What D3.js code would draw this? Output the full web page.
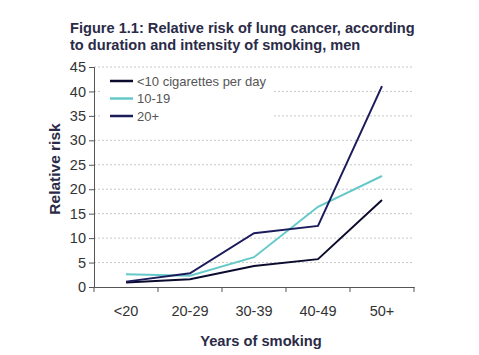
<!DOCTYPE html>
<html><head><meta charset="utf-8">
<script src="https://cdn.jsdelivr.net/npm/d3@7"></script>
<style>body{margin:0;background:#fff}svg{display:block}</style>
</head><body>
<script>
const categories = ["<20", "20-29", "30-39", "40-49", "50+"];
const seriesNames = ["<10 cigarettes per day", "10-19", "20+"];
const lt10 = [0.9, 1.6, 4.3, 5.7, 17.8];
const s10_19 = [2.6, 2.3, 6.1, 16.4, 22.7];
const s20plus = [1.1, 2.8, 11.0, 12.5, 41.1];
const yTicks = [0, 5, 10, 15, 20, 25, 30, 35, 40, 45];
const colors = ["#0b0b2e", "#66c9c9", "#1c1c5c"];
const series = [lt10, s10_19, s20plus];

const W = 479, H = 355;
const svg = d3.select("body").append("svg").attr("width", W).attr("height", H);
const x = d3.scaleBand().domain(categories).range([94, 414]);
const y = d3.scaleLinear().domain([0, 45]).range([287, 67]);
const font = "Liberation Sans, Arial, sans-serif";

// title
const title = svg.append("text").attr("x", 70).attr("y", 33)
  .attr("font-family", font).attr("font-weight", "bold").attr("font-size", 14.6).attr("fill", "#2b2b48");
title.append("tspan").attr("x", 70).attr("y", 33).text("Figure 1.1: Relative risk of lung cancer, according");
title.append("tspan").attr("x", 70).attr("y", 50).text("to duration and intensity of smoking, men");

// gridlines
svg.append("g").selectAll("line").data(yTicks.filter(d => d > 0)).join("line")
  .attr("x1", 94).attr("x2", 414).attr("y1", d => y(d)).attr("y2", d => y(d))
  .attr("stroke", "#c8c8c8").attr("stroke-width", 1).attr("stroke-dasharray", "2,2");

// y axis
const ya = svg.append("g").attr("transform", "translate(94,0)")
  .call(d3.axisLeft(y).tickValues(yTicks).tickSize(5).tickPadding(3));
ya.selectAll("text").attr("font-family", font).attr("font-size", 14.5).attr("fill", "#333");
ya.selectAll("line,path").attr("stroke", "#555");

// x axis
const xa = svg.append("g").attr("transform", "translate(0,287)")
  .call(d3.axisBottom(x).tickSize(0).tickPadding(19));
xa.selectAll("text").attr("font-family", font).attr("font-size", 14.5).attr("fill", "#333");
xa.select("path").attr("stroke", "#555");
const bounds = categories.map(c => x(c)).concat([x(categories[categories.length - 1]) + x.bandwidth()]);
xa.selectAll(".xt").data(bounds).join("line").attr("class", "xt")
  .attr("x1", d => d).attr("x2", d => d).attr("y1", 0).attr("y2", 5).attr("stroke", "#555");

// axis titles
svg.append("text").attr("transform", "translate(60,169) rotate(-90)").attr("text-anchor", "middle")
  .attr("font-family", font).attr("font-weight", "bold").attr("font-size", 15.5).attr("fill", "#2b2b48")
  .text("Relative risk");
svg.append("text").attr("x", 261).attr("y", 346).attr("text-anchor", "middle")
  .attr("font-family", font).attr("font-weight", "bold").attr("font-size", 14.7).attr("fill", "#2b2b48")
  .text("Years of smoking");

// legend background
svg.append("rect").attr("x", 100).attr("y", 72).attr("width", 172).attr("height", 52).attr("fill", "#fff");

// lines
const line = d3.line().x((d, i) => x(categories[i]) + x.bandwidth() / 2).y(d => y(d));
svg.append("g").selectAll("path").data(series).join("path")
  .attr("d", d => line(d)).attr("fill", "none")
  .attr("stroke", (d, i) => colors[i]).attr("stroke-width", 2).attr("stroke-linejoin", "miter");

// legend
const lg = svg.append("g").selectAll("g").data(seriesNames).join("g")
  .attr("transform", (d, i) => `translate(110,${81 + i * 17.5})`);
lg.append("line").attr("x1", 0).attr("x2", 23).attr("stroke", (d, i) => colors[i]).attr("stroke-width", 2.5);
lg.append("text").attr("x", 27).attr("y", 4.5).attr("font-family", font).attr("font-size", 13)
  .attr("fill", "#555").text(d => d);
</script>
</body></html>
